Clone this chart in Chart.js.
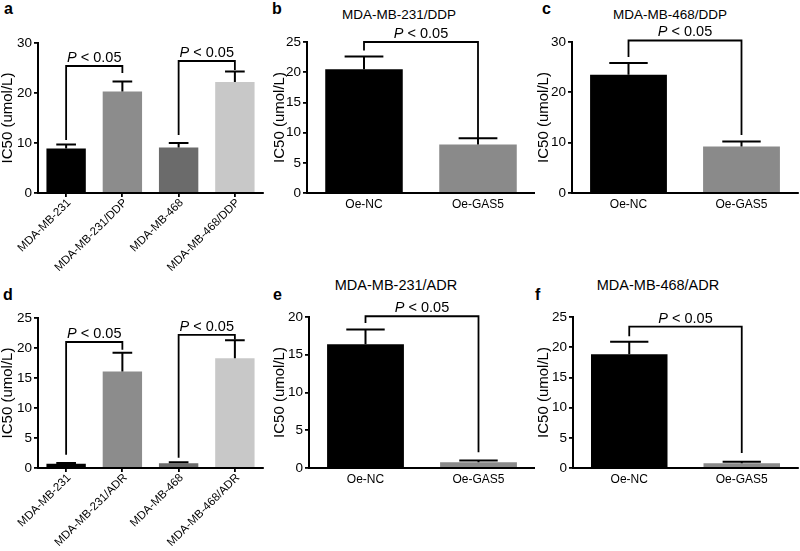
<!DOCTYPE html>
<html>
<head>
<meta charset="utf-8">
<script src="https://cdn.jsdelivr.net/npm/chart.js@4.4.1/dist/chart.umd.min.js"></script>
<style>
  body { margin: 0; background: #fff; }
  #figure { position: relative; width: 800px; height: 551px; overflow: hidden; font-family: "Liberation Sans", Arial, sans-serif; color: #000; }
  .panel { position: absolute; }
  .letter { position: absolute; font-weight: bold; font-size: 16px; line-height: 16px; }
  .title { position: absolute; white-space: nowrap; transform: translate(-50%, -50%); line-height: 1; }
</style>
</head>
<body>
<div id="figure">
  <div class="letter" style="left:4px;top:1px">a</div>
  <div class="letter" style="left:272px;top:1px">b</div>
  <div class="letter" style="left:542px;top:1px">c</div>
  <div class="letter" style="left:3px;top:287px">d</div>
  <div class="letter" style="left:273px;top:287px">e</div>
  <div class="letter" style="left:535px;top:287px">f</div>
  <div class="title" style="left:399px;top:15px;font-size:13.5px">MDA-MB-231/DDP</div>
  <div class="title" style="left:670px;top:15px;font-size:13.5px">MDA-MB-468/DDP</div>
  <div class="title" style="left:396px;top:285px;font-size:14.5px">MDA-MB-231/ADR</div>
  <div class="title" style="left:658px;top:285px;font-size:14.5px">MDA-MB-468/ADR</div>

  <div class="panel" style="left:0;top:0;width:268px;height:280px"><canvas id="chart-a"></canvas></div>
  <div class="panel" style="left:268px;top:0;width:267px;height:272px"><canvas id="chart-b"></canvas></div>
  <div class="panel" style="left:535px;top:0;width:265px;height:272px"><canvas id="chart-c"></canvas></div>
  <div class="panel" style="left:0;top:272px;width:268px;height:279px"><canvas id="chart-d"></canvas></div>
  <div class="panel" style="left:268px;top:272px;width:267px;height:279px"><canvas id="chart-e"></canvas></div>
  <div class="panel" style="left:535px;top:272px;width:265px;height:279px"><canvas id="chart-f"></canvas></div>
</div>
<script>
const FONT = "'Liberation Sans', Arial, sans-serif";
const P_TEXT = " < 0.05";

// categories
const ddpLines = ["MDA-MB-231", "MDA-MB-231/DDP", "MDA-MB-468", "MDA-MB-468/DDP"];
const adrLines = ["MDA-MB-231", "MDA-MB-231/ADR", "MDA-MB-468", "MDA-MB-468/ADR"];
const oeGroups = ["Oe-NC", "Oe-GAS5"];

// IC50 means and error (upper whisker)
const ic50A = [8.9, 20.3, 9.1, 22.2];
const errA = [0.8, 2.0, 0.9, 2.1];
const ic50B = [20.5, 8.05];
const errB = [2.1, 1.0];
const ic50C = [23.5, 9.25];
const errC = [2.35, 1.0];
const ic50D = [0.7, 16.1, 0.8, 18.3];
const errD = [0.15, 3.1, 0.15, 3.0];
const ic50E = [16.4, 0.75];
const errE = [1.95, 0.25];
const ic50F = [18.85, 0.8];
const errF = [2.05, 0.25];

// y axis ranges [max, step]
const yAxisA = [30, 10];
const yAxisB = [25, 5];
const yAxisC = [30, 10];
const yAxisD = [25, 5];
const yAxisE = [20, 5];
const yAxisF = [25, 5];

// significance brackets: [from, to, bar height, left leg end, right leg end]
const sigA = [[0, 1, 25.4, 10.6, 24.0], [2, 3, 26.4, 11.6, 24.6]];
const sigB = [[0, 1, 25.0, 23.6, 9.1]];
const sigC = [[0, 1, 30.3, 27.0, 11.5]];
const sigD = [[0, 1, 21.0, 2.2, 19.7], [2, 3, 22.2, 1.7, 21.4]];
const sigE = [[0, 1, 20.1, 19.2, 2.1]];
const sigF = [[0, 1, 23.4, 21.8, 2.5]];

const fourGreys = ["#000000", "#8c8c8c", "#6b6b6b", "#c8c8c8"];
const twoGreys = ["#000000", "#8a8a8a"];

function annotations(values, errors, brackets) {
  return {
    id: "annotations",
    afterDatasetsDraw(chart) {
      const { ctx, scales: { x, y } } = chart;
      const bars = chart.getDatasetMeta(0).data;
      ctx.save();
      ctx.strokeStyle = "#000";
      ctx.lineWidth = 2;
      errors.forEach((e, i) => {
        const cx = x.getPixelForValue(i);
        const y0 = y.getPixelForValue(values[i]);
        const y1 = y.getPixelForValue(values[i] + e);
        const half = bars[i].width / 4;
        ctx.beginPath();
        ctx.moveTo(cx, y0);
        ctx.lineTo(cx, y1);
        ctx.moveTo(cx - half, y1);
        ctx.lineTo(cx + half, y1);
        ctx.stroke();
      });
      ctx.lineWidth = 1.8;
      brackets.forEach(([i, j, top, legI, legJ]) => {
        const xi = x.getPixelForValue(i);
        const xj = x.getPixelForValue(j);
        const yt = y.getPixelForValue(top);
        ctx.beginPath();
        ctx.moveTo(xi, y.getPixelForValue(legI));
        ctx.lineTo(xi, yt);
        ctx.lineTo(xj, yt);
        ctx.lineTo(xj, y.getPixelForValue(legJ));
        ctx.stroke();

        ctx.fillStyle = "#000";
        ctx.textBaseline = "alphabetic";
        ctx.textAlign = "left";
        ctx.font = "italic 14.5px " + FONT;
        const wp = ctx.measureText("P").width;
        ctx.font = "14.5px " + FONT;
        const wr = ctx.measureText(P_TEXT).width;
        const start = (xi + xj) / 2 - (wp + wr) / 2;
        ctx.font = "italic 14.5px " + FONT;
        ctx.fillText("P", start, yt - 4);
        ctx.font = "14.5px " + FONT;
        ctx.fillText(P_TEXT, start + wp, yt - 4);
      });
      ctx.restore();
    }
  };
}

function makePanel(id, layout, labels, values, errors, colors, yAxis, brackets) {
  const rotated = labels.length > 2;
  const [yMax, yStep] = yAxis;
  return new Chart(document.getElementById(id), {
    type: "bar",
    data: {
      labels: labels,
      datasets: [{
        data: values,
        backgroundColor: colors,
        borderWidth: 0,
        barPercentage: rotated ? 0.7 : 0.68,
        categoryPercentage: 1
      }]
    },
    options: {
      responsive: true,
      maintainAspectRatio: false,
      animation: false,
      layout: { padding: { left: layout.padLeft, top: layout.padTop, right: layout.padRight, bottom: 0 } },
      plugins: { legend: { display: false }, tooltip: { enabled: false } },
      scales: {
        x: {
          offset: true,
          afterFit: (s) => { s.height = layout.xHeight; },
          grid: { display: true, drawOnChartArea: false, drawTicks: rotated, tickLength: 4, offset: false, color: "#000", lineWidth: 1.8 },
          border: { display: true, color: "#000", width: 2 },
          ticks: {
            color: "#000",
            autoSkip: false,
            maxRotation: rotated ? 45 : 0,
            minRotation: rotated ? 45 : 0,
            padding: rotated ? -1 : 4,
            labelOffset: rotated ? 3 : 0,
            font: { family: FONT, size: rotated ? 11.5 : 12 }
          }
        },
        y: {
          min: 0,
          max: yMax,
          afterFit: (s) => { s.width = layout.yWidth; },
          grid: { display: true, drawOnChartArea: false, drawTicks: true, tickLength: 4, color: "#000", lineWidth: 1.8 },
          border: { display: true, color: "#000", width: 2 },
          ticks: { stepSize: yStep, color: "#000", padding: 2, font: { family: FONT, size: 13.5 } },
          title: { display: true, text: "IC50 (umol/L)", color: "#000", padding: 0, font: { family: FONT, size: 15, lineHeight: 1 } }
        }
      }
    },
    plugins: [annotations(values, errors, brackets)]
  });
}

makePanel("chart-a", { padLeft: 0, padTop: 43, padRight: 5, yWidth: 38, xHeight: 87 }, ddpLines, ic50A, errA, fourGreys, yAxisA, sigA);
makePanel("chart-b", { padLeft: 4, padTop: 42, padRight: 0, yWidth: 35, xHeight: 79 }, oeGroups, ic50B, errB, twoGreys, yAxisB, sigB);
makePanel("chart-c", { padLeft: 1, padTop: 42, padRight: 2, yWidth: 36, xHeight: 79 }, oeGroups, ic50C, errC, twoGreys, yAxisC, sigC);
makePanel("chart-d", { padLeft: 0, padTop: 46, padRight: 5, yWidth: 38, xHeight: 83 }, adrLines, ic50D, errD, fourGreys, yAxisD, sigD);
makePanel("chart-e", { padLeft: 4, padTop: 45, padRight: 0, yWidth: 37, xHeight: 83 }, oeGroups, ic50E, errE, twoGreys, yAxisE, sigE);
makePanel("chart-f", { padLeft: 1, padTop: 45, padRight: 2, yWidth: 37, xHeight: 83 }, oeGroups, ic50F, errF, twoGreys, yAxisF, sigF);
</script>
</body>
</html>
